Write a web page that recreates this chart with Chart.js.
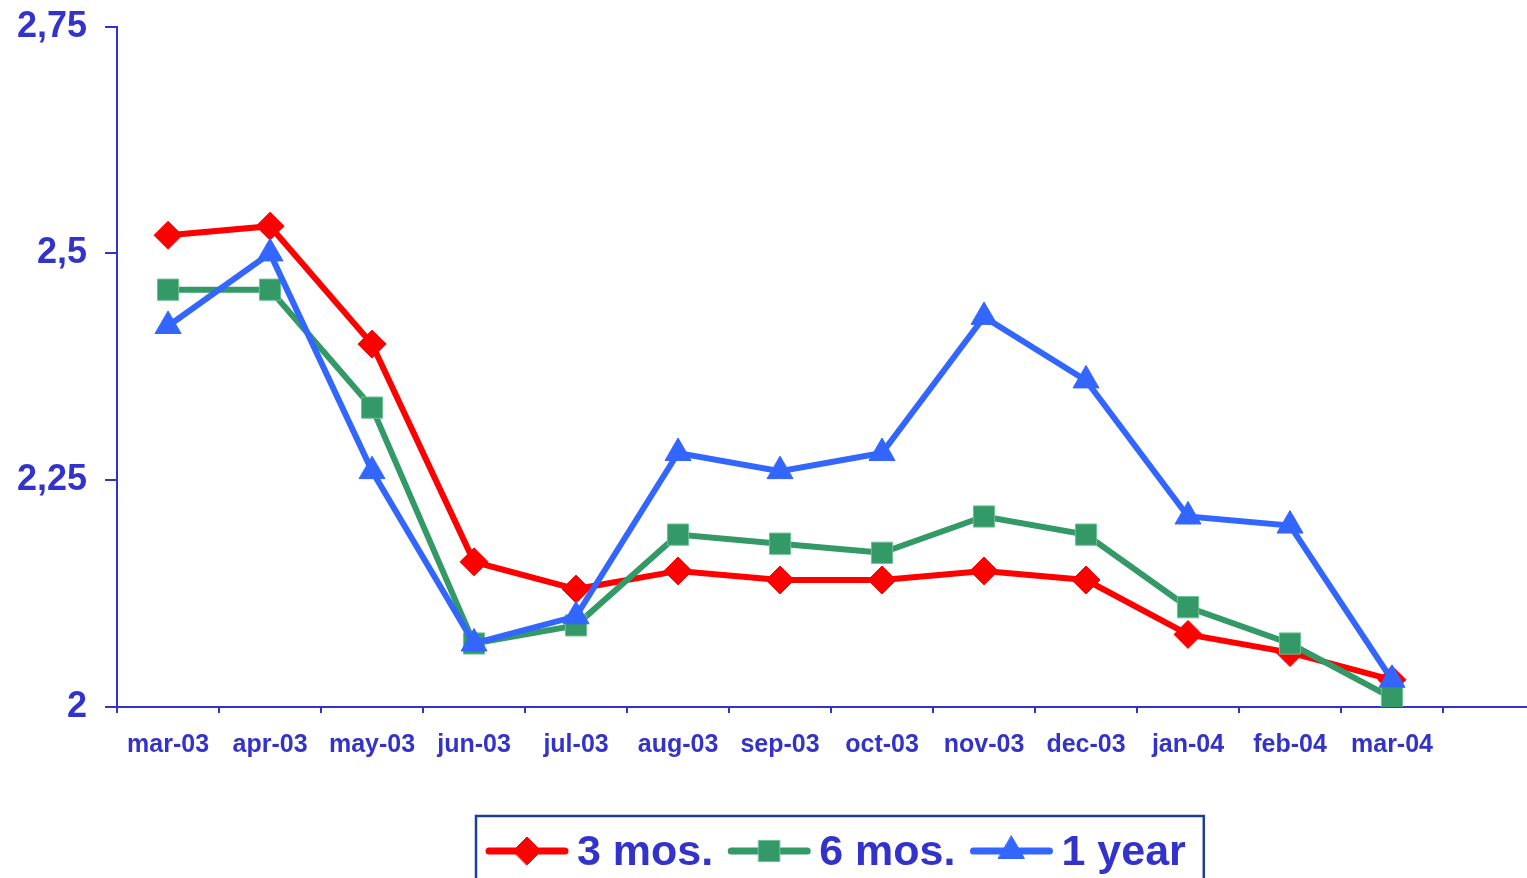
<!DOCTYPE html>
<html>
<head>
<meta charset="utf-8">
<script src="https://cdn.jsdelivr.net/npm/chart.js@4.4.1/dist/chart.umd.min.js"></script>
<style>
  html, body { margin: 0; padding: 0; background: #fff; overflow: hidden; }
  #wrap { position: relative; width: 1560px; height: 891px; margin-top: -13px; }
</style>
</head>
<body>
<div id="wrap"><canvas id="c"></canvas></div>
<script>
// Monthly rates by maturity (last slot left empty on the axis)
const months = ['mar-03', 'apr-03', 'may-03', 'jun-03', 'jul-03', 'aug-03', 'sep-03',
                'oct-03', 'nov-03', 'dec-03', 'jan-04', 'feb-04', 'mar-04', ''];
const threeMonths = [2.52, 2.53, 2.40, 2.16, 2.13, 2.15, 2.14, 2.14, 2.15, 2.14, 2.08, 2.06, 2.03];
const sixMonths   = [2.46, 2.46, 2.33, 2.07, 2.09, 2.19, 2.18, 2.17, 2.21, 2.19, 2.11, 2.07, 2.01];
const oneYear     = [2.42, 2.50, 2.26, 2.07, 2.10, 2.28, 2.26, 2.28, 2.43, 2.36, 2.21, 2.20, 2.03];
const seriesNames = ['3 mos.', '6 mos.', '1 year'];
const yTickValues = [2, 2.25, 2.5, 2.75];
const yTickLabels = ['2', '2,25', '2,5', '2,75'];

const AXIS = '#3333CC';
const FONT = 'Arial, "Liberation Sans", sans-serif';

// Legend drawn as a boxed row: line sample with marker, then the series name
const boxedLegend = {
  id: 'boxedLegend',
  afterDraw(chart, args, opts) {
    const ctx = chart.ctx;
    ctx.save();
    ctx.font = 'bold 43px ' + FONT;
    ctx.textBaseline = 'middle';
    ctx.textAlign = 'left';
    let x = opts.left + 13;
    const y = opts.centerY;
    chart.data.datasets.forEach((ds) => {
      ctx.strokeStyle = ds.borderColor;
      ctx.lineWidth = 7;
      ctx.lineCap = 'round';
      ctx.beginPath();
      ctx.moveTo(x, y);
      ctx.lineTo(x + 76, y);
      ctx.stroke();
      ctx.fillStyle = ds.pointBackgroundColor;
      ctx.strokeStyle = ds.pointBorderColor;
      ctx.lineWidth = ds.pointBorderWidth;
      Chart.helpers.drawPoint(ctx, {
        pointStyle: ds.pointStyle, radius: ds.pointRadius, rotation: 0, borderWidth: ds.pointBorderWidth
      }, x + 38, y);
      x += 76 + 12;
      ctx.fillStyle = AXIS;
      ctx.fillText(ds.label, x, y + 2);
      x += ctx.measureText(ds.label).width + 18;
    });
    ctx.strokeStyle = '#1F3D96';
    ctx.lineWidth = 2.5;
    ctx.strokeRect(opts.left, opts.top, x - opts.left, 100);
    ctx.restore();
  }
};

new Chart(document.getElementById('c'), {
  type: 'line',
  data: {
    labels: months,
    datasets: [
      {
        label: seriesNames[0], data: threeMonths, order: 3,
        borderColor: '#FF0000', backgroundColor: '#FF0000', borderWidth: 6,
        pointStyle: 'rectRot', pointRadius: 14, pointHoverRadius: 14,
        pointBackgroundColor: '#FF0000', pointBorderColor: '#FF0000', pointBorderWidth: 1
      },
      {
        label: seriesNames[1], data: sixMonths, order: 2,
        borderColor: '#339966', backgroundColor: '#339966', borderWidth: 6,
        pointStyle: 'rect', pointRadius: 15, pointHoverRadius: 15,
        pointBackgroundColor: '#339966', pointBorderColor: '#6CC096', pointBorderWidth: 1
      },
      {
        label: seriesNames[2], data: oneYear, order: 1,
        borderColor: '#3366FF', backgroundColor: '#3366FF', borderWidth: 6,
        pointStyle: 'triangle', pointRadius: 15, pointHoverRadius: 15,
        pointBackgroundColor: '#3366FF', pointBorderColor: '#3366FF', pointBorderWidth: 1
      }
    ]
  },
  options: {
    responsive: true,
    maintainAspectRatio: false,
    animation: false,
    events: [],
    layout: { autoPadding: false, padding: { top: 0, left: -1, right: 15, bottom: 101 } },
    plugins: {
      legend: { display: false },
      tooltip: { enabled: false },
      boxedLegend: { left: 476, top: 829, centerY: 864 }
    },
    scales: {
      x: {
        offset: true,
        grid: { display: true, drawOnChartArea: false, offset: true, tickLength: 6, color: AXIS, lineWidth: 2 },
        border: { display: true, color: AXIS, width: 2 },
        ticks: { color: AXIS, font: { family: FONT, size: 25, weight: 'bold' }, padding: 17, maxRotation: 0, autoSkip: false }
      },
      y: {
        min: 2, max: 2.75,
        grid: { display: true, drawOnChartArea: false, tickLength: 12, color: AXIS, lineWidth: 2 },
        border: { display: true, color: AXIS, width: 2 },
        ticks: {
          stepSize: 0.25, color: AXIS, padding: 18,
          font: { family: FONT, size: 36, weight: 'bold' },
          callback: (v) => { const i = yTickValues.indexOf(v); return i >= 0 ? yTickLabels[i] : ''; }
        }
      }
    }
  },
  plugins: [boxedLegend]
});
</script>
</body>
</html>
